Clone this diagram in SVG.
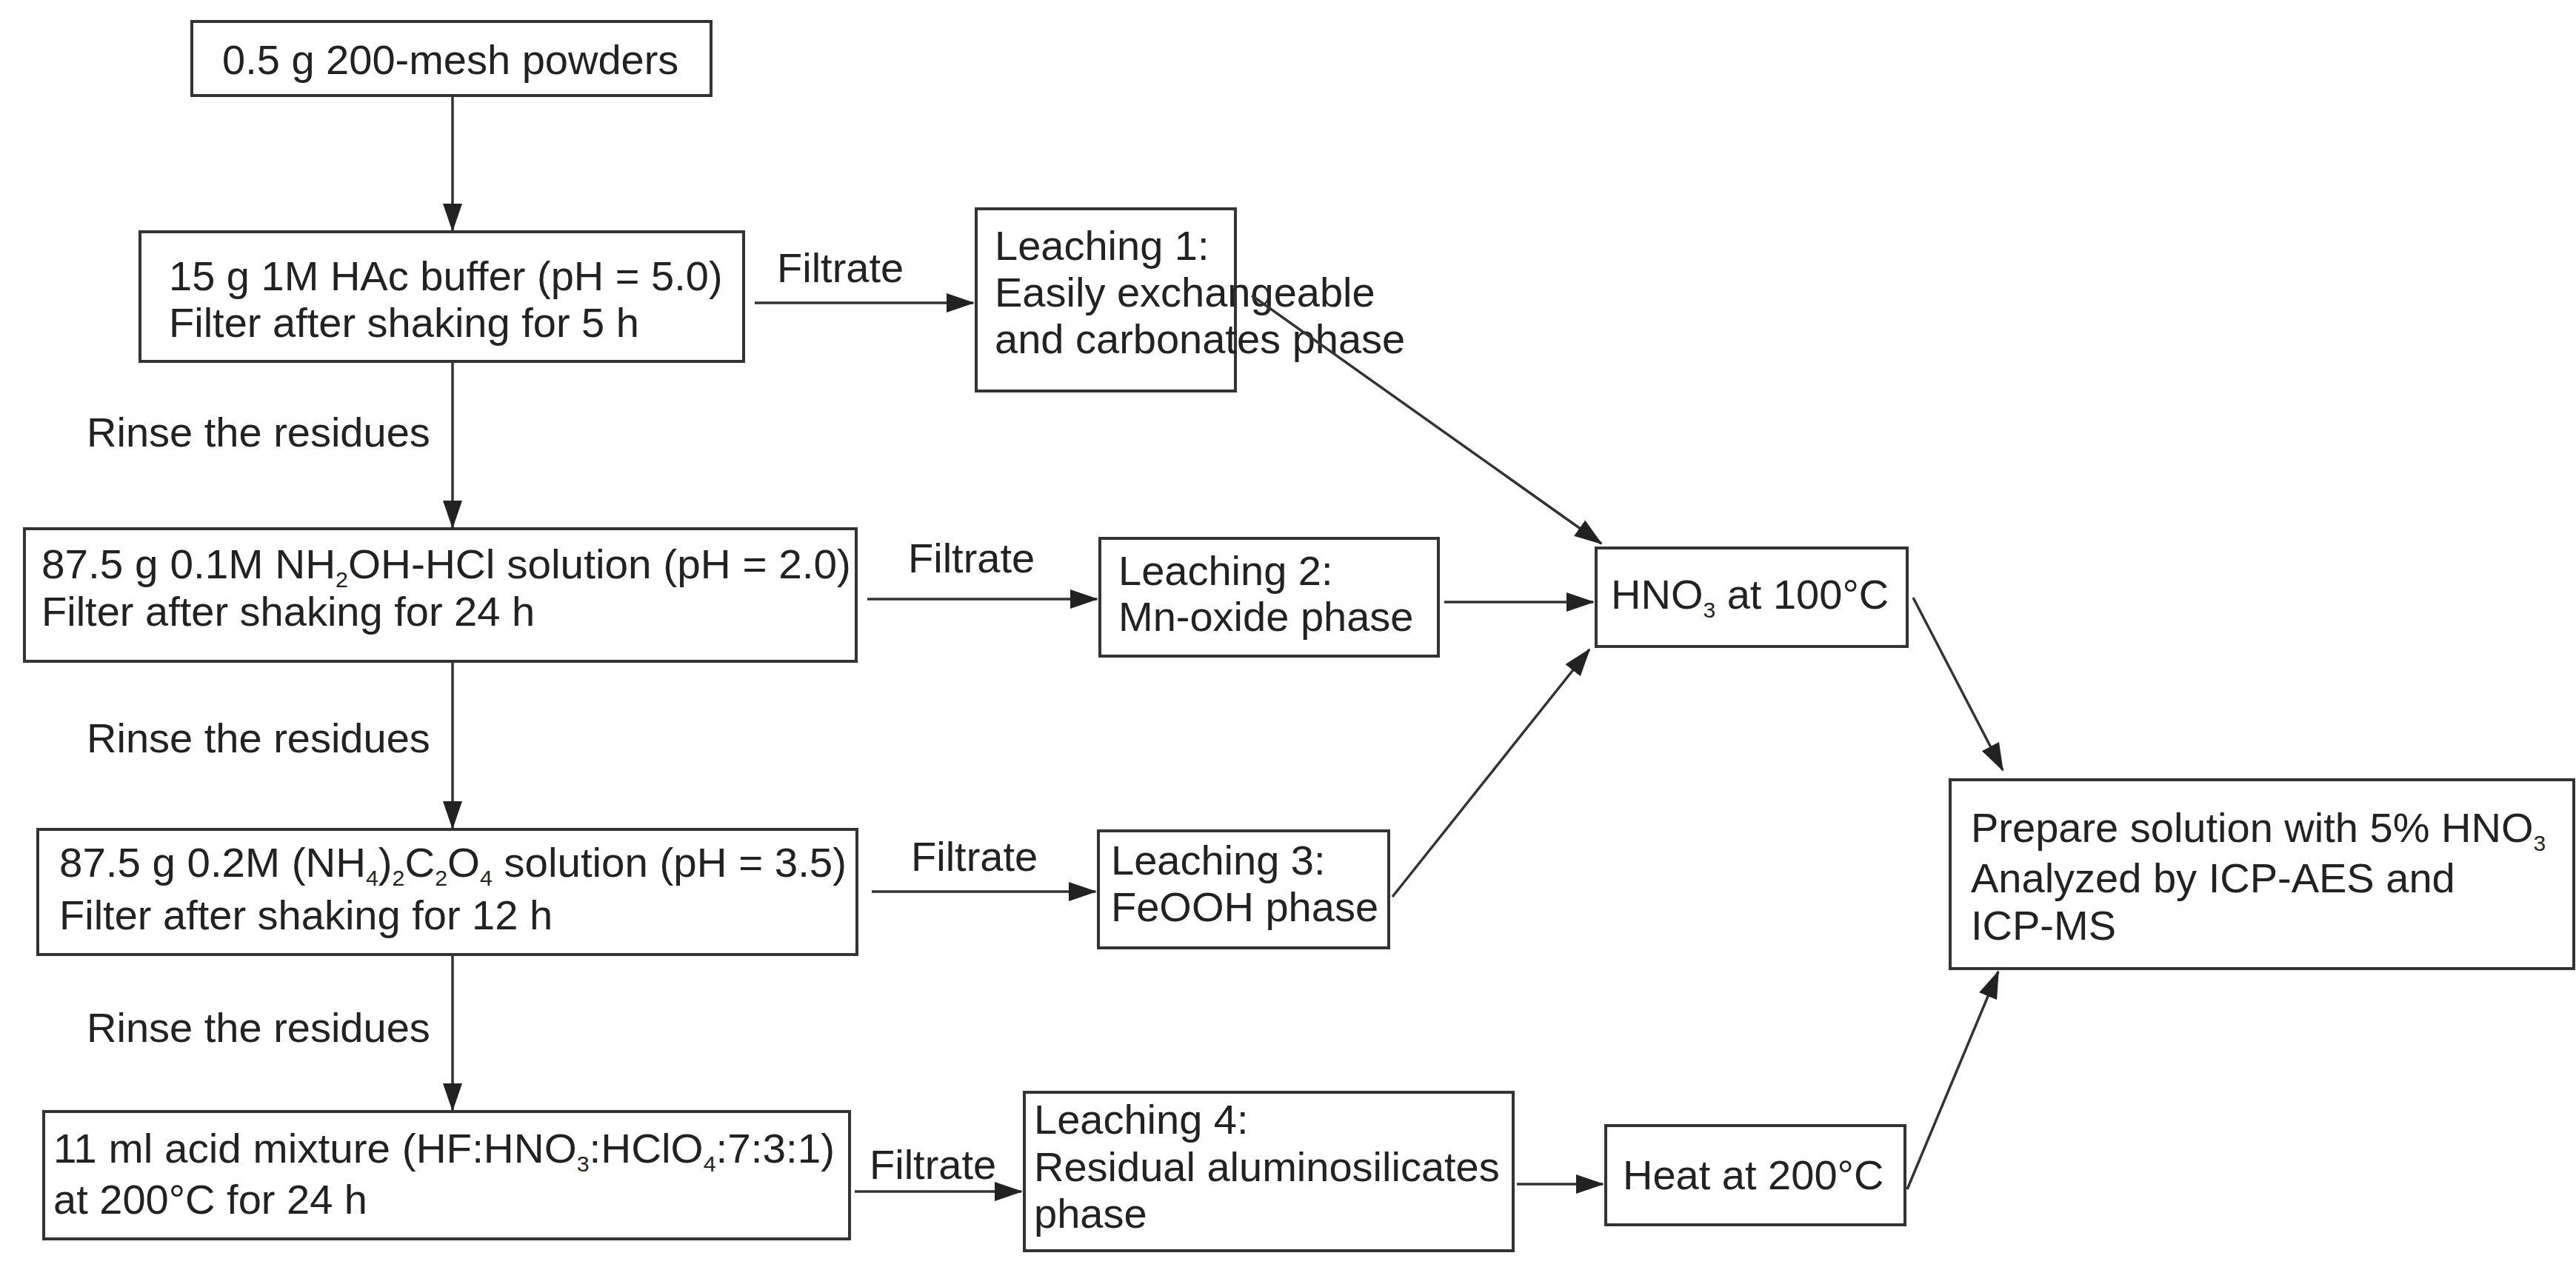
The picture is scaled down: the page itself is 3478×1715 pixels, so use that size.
<svg xmlns="http://www.w3.org/2000/svg" width="3478" height="1715" viewBox="0 0 3478 1715">
<style>
rect{fill:#fff;stroke:#333;stroke-width:4}
text{font-family:"Liberation Sans",Arial,sans-serif;font-size:56px;fill:#222}
.c line{stroke:#333;stroke-width:3.5;marker-end:url(#ah)}
.s{font-size:30px}
</style>
<defs><marker id="ah" markerUnits="userSpaceOnUse" markerWidth="38" markerHeight="26" refX="36" refY="13" orient="auto"><path d="M0,0 L38,13 L0,26 z" fill="#222"/></marker></defs>
<rect x="0" y="0" width="3478" height="1715" style="fill:#fff;stroke:none"/>
<g id="n1"><rect x="259" y="29" width="701" height="100"/><text x="300" y="100">0.5 g 200-mesh powders</text></g>
<g id="n2"><rect x="189" y="313" width="815" height="175"/><text x="228" y="392">15 g 1M HAc buffer (pH = 5.0)</text><text x="228" y="455">Filter after shaking for 5 h</text></g>
<g id="n3"><rect x="33" y="714" width="1123" height="179"/><text x="56" y="781" textLength="1093" lengthAdjust="spacingAndGlyphs">87.5 g 0.1M NH<tspan class="s" dy="12">2</tspan><tspan dy="-12">OH-HCl solution (pH = 2.0)</tspan></text><text x="56" y="845">Filter after shaking for 24 h</text></g>
<g id="n4"><rect x="51" y="1120" width="1106" height="169"/><text x="80" y="1184" textLength="1063" lengthAdjust="spacingAndGlyphs">87.5 g 0.2M (NH<tspan class="s" dy="12">4</tspan><tspan dy="-12">)</tspan><tspan class="s" dy="12">2</tspan><tspan dy="-12">C</tspan><tspan class="s" dy="12">2</tspan><tspan dy="-12">O</tspan><tspan class="s" dy="12">4</tspan><tspan dy="-12"> solution (pH = 3.5)</tspan></text><text x="80" y="1255">Filter after shaking for 12 h</text></g>
<g id="n5"><rect x="59" y="1501" width="1088" height="172"/><text x="72" y="1570" textLength="1055" lengthAdjust="spacingAndGlyphs">11 ml acid mixture (HF:HNO<tspan class="s" dy="12">3</tspan><tspan dy="-12">:HClO</tspan><tspan class="s" dy="12">4</tspan><tspan dy="-12">:7:3:1)</tspan></text><text x="72" y="1639">at 200°C for 24 h</text></g>
<g id="l1"><rect x="1318" y="282" width="350" height="246"/><text x="1343" y="351">Leaching 1:</text><text x="1343" y="414">Easily exchangeable</text><text x="1343" y="477">and carbonates phase</text></g>
<g id="l2"><rect x="1485" y="727" width="457" height="159"/><text x="1510" y="790">Leaching 2:</text><text x="1510" y="852">Mn-oxide phase</text></g>
<g id="l3"><rect x="1483" y="1122" width="392" height="158"/><text x="1500" y="1181">Leaching 3:</text><text x="1500" y="1244">FeOOH phase</text></g>
<g id="l4"><rect x="1383" y="1475" width="660" height="214"/><text x="1396" y="1531">Leaching 4:</text><text x="1396" y="1595">Residual aluminosilicates</text><text x="1396" y="1658">phase</text></g>
<g id="h1"><rect x="2155" y="740" width="420" height="133"/><text x="2175" y="822">HNO<tspan class="s" dy="12">3</tspan><tspan dy="-12"> at 100°C</tspan></text></g>
<g id="h2"><rect x="2168" y="1520" width="404" height="134"/><text x="2191" y="1606">Heat at 200°C</text></g>
<g id="f"><rect x="2633" y="1053" width="842" height="255"/><text x="2661" y="1137">Prepare solution with 5% HNO<tspan class="s" dy="12">3</tspan></text><text x="2661" y="1205">Analyzed by ICP-AES and</text><text x="2661" y="1269">ICP-MS</text></g>
<g id="labels">
<text x="1049" y="381">Filtrate</text><text x="1226" y="773">Filtrate</text><text x="1230" y="1176">Filtrate</text><text x="1174" y="1592">Filtrate</text>
<text x="117" y="603">Rinse the residues</text><text x="117" y="1016">Rinse the residues</text><text x="117" y="1407">Rinse the residues</text>
</g>
<g class="c" id="connectors">
<line x1="611" y1="129" x2="611" y2="311"/>
<line x1="611" y1="488" x2="611" y2="712"/>
<line x1="611" y1="893" x2="611" y2="1118"/>
<line x1="611" y1="1289" x2="611" y2="1499"/>
<line x1="1019" y1="409" x2="1314" y2="409"/>
<line x1="1171" y1="809" x2="1481" y2="809"/>
<line x1="1177" y1="1204" x2="1479" y2="1204"/>
<line x1="1154" y1="1609" x2="1379" y2="1609"/>
<line x1="2048" y1="1599" x2="2164" y2="1599"/>
<line x1="1950" y1="813" x2="2151" y2="813"/>
<line x1="1690" y1="399" x2="2162" y2="734"/>
<line x1="1880" y1="1211" x2="2146" y2="877"/>
<line x1="2583" y1="807" x2="2704" y2="1040"/>
<line x1="2575" y1="1606" x2="2698" y2="1312"/>
</g>
</svg>
